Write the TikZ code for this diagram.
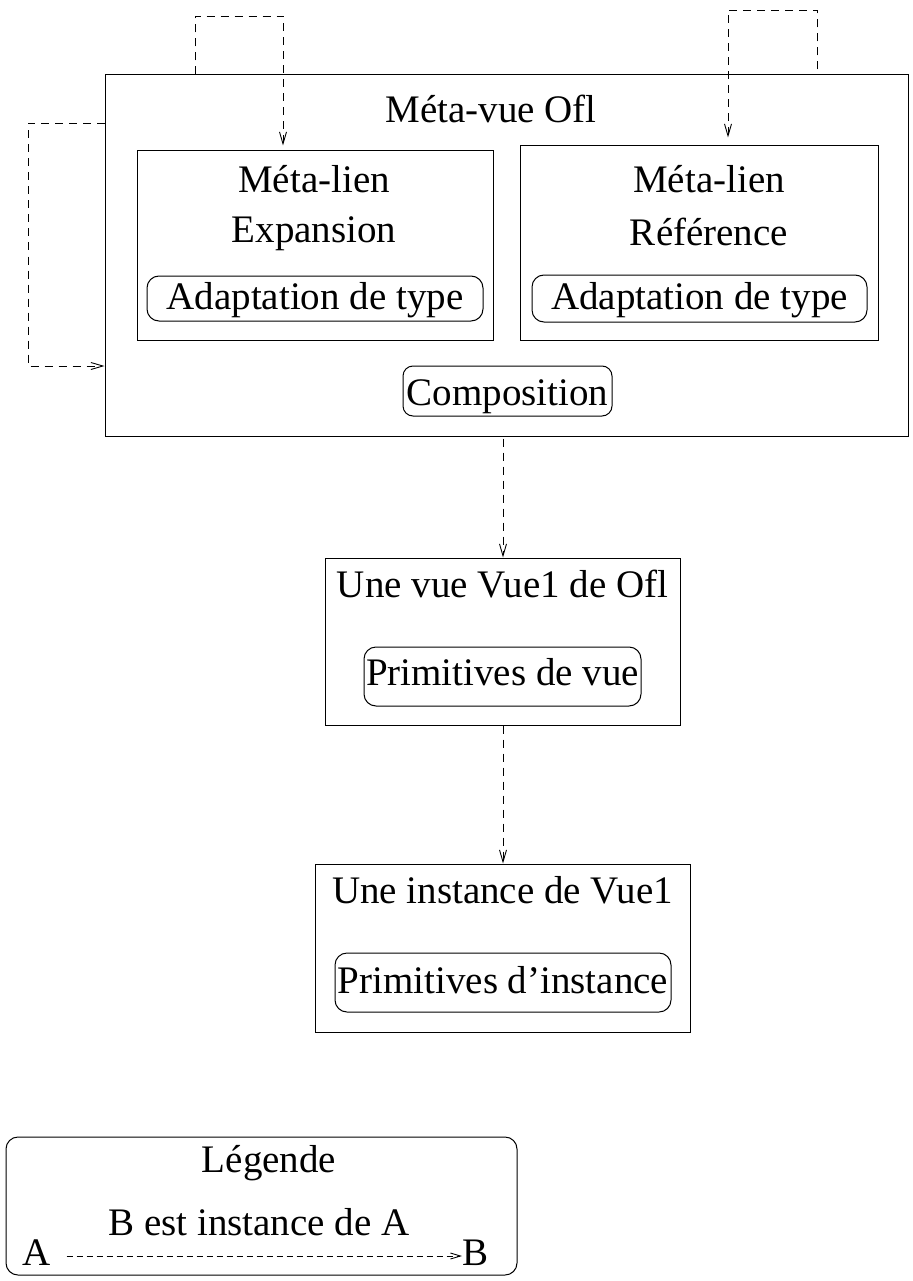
\documentclass[tikz,border=0pt]{standalone}
\usepackage{fontspec}
\setmainfont{Liberation Serif}
\usetikzlibrary{arrows.meta,calc}
\begin{document}
\begin{tikzpicture}[x=1pt,y=-1pt,
  every node/.style={font=\fontsize{39}{47}\selectfont},
  box/.style={draw,line width=1pt,inner sep=0pt,minimum width=#1},
  rbox/.style={draw,line width=1pt,inner sep=0pt,rounded corners=12pt,minimum width=#1},
  txt/.style={inner sep=0pt,anchor=base},
  dep/.style={line width=0.9pt,dash pattern=on 8pt off 6pt,-{Straight Barb[length=12pt,width=7pt]}},
  legdep/.style={line width=0.9pt,dash pattern=on 6pt off 4pt,-{Straight Barb[length=10pt,width=6pt]}}]
\useasboundingbox (0,0) rectangle (912,1281);

% boxes
\node[box=803pt,minimum height=361pt] (outer) at (506.5,255.5) {};
\node[box=356pt,minimum height=189pt] (inner1) at (315,245.5) {};
\node[box=358pt,minimum height=194pt] (inner2) at (699,243) {};
\node[rbox=336pt,minimum height=45pt] (adapt1) at (315,298.5) {};
\node[rbox=335pt,minimum height=47pt] (adapt2) at (699.5,298.5) {};
\node[rbox=209pt,minimum height=50pt,rounded corners=10pt] (compo) at (507.5,391) {};
\node[box=355pt,minimum height=167pt] (vue) at (502.5,641.5) {};
\node[rbox=277pt,minimum height=59pt] (primvue) at (502.5,676.5) {};
\node[box=375pt,minimum height=168pt] (inst) at (502.5,948) {};
\node[rbox=336pt,minimum height=59pt] (priminst) at (503,982.5) {};
\node[rbox=511pt,minimum height=138pt] (leg) at (261.5,1206) {};

% texts
\node[txt] (tmeta) at (491,123) {Méta-vue Ofl};
\node[txt] (tml1) at (314,193) {Méta-lien};
\node[txt] (texp) at (314,243) {Expansion};
\node[txt] (tad1) at (315,309) {Adaptation de type};
\node[txt] (tml2) at (709,193) {Méta-lien};
\node[txt] (tref) at (709,245) {Référence};
\node[txt] (tad2) at (699.5,309) {Adaptation de type};
\node[txt] (tcomp) at (507.5,405) {Composition};
\node[txt] (tvue) at (502.5,597) {Une vue Vue1 de Ofl};
\node[txt] (tpv) at (502.5,685) {Primitives de vue};
\node[txt] (tinst) at (502.5,903) {Une instance de Vue1};
\node[txt] (tpi) at (503,993) {Primitives d’instance};
\node[txt] (tleg) at (269,1172) {Légende};
\node[txt] (tbest) at (259,1235) {B est instance de A};
\node[inner sep=0pt,anchor=base west] (la) at (22,1265) {A};
\node[inner sep=0pt,anchor=base west] (lb) at (462,1265) {B};

% connectors
\coordinate (l1) at (28,123);
\coordinate (l2) at (28,366);
\draw[dep] (outer.west |- l1) -- (l1) -- (l2) -- (outer.west |- l2);

\coordinate (t1) at (195,16);
\coordinate (t1b) at (283,16);
\draw[dep,shorten >=5pt] (outer.north -| t1) -- (t1) -- (t1b) -- (inner1.north -| t1b);

\coordinate (t2) at (817,10);
\coordinate (t2b) at (728,10);
\draw[dep,shorten >=8pt] ([yshift=5pt]outer.north -| t2) -- (t2) -- (t2b) -- (inner2.north -| t2b);

\coordinate (m1) at (503,0);
\draw[dep] ([yshift=-2pt]outer.south -| m1) -- (vue.north -| m1);
\draw[dep] (vue.south -| m1) -- (inst.north -| m1);

\coordinate (la1) at (65,1256);
\coordinate (lb1) at (456,1256);
\draw[legdep] (la.east |- la1) ++(16pt,0) -- (lb.west |- lb1);
\end{tikzpicture}
\end{document}
